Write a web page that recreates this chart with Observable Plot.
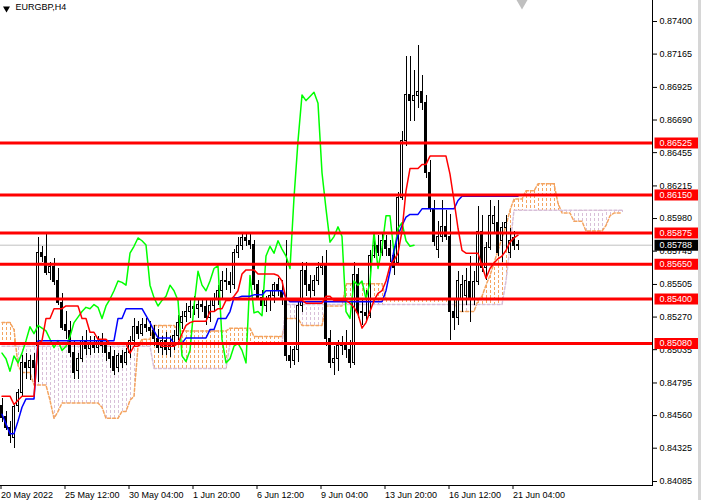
<!DOCTYPE html>
<html><head><meta charset="utf-8">
<script src="https://cdn.jsdelivr.net/npm/d3@7"></script>
<script src="https://cdn.jsdelivr.net/npm/@observablehq/plot@0.6"></script>
<style>
html,body{margin:0;padding:0;background:#fff;}
#wrap{position:relative;width:701px;height:500px;overflow:hidden;}
#edge{position:absolute;right:0;top:0;width:3px;height:500px;background:#d6d6d6;}
</style></head><body><div id="wrap"><div id="edge"></div></div>
<script>
// ---- data (EURGBP H4 candles, Ichimoku lines, levels) ----
const openP = [0.8463,0.8455,0.8447,0.8440,0.8463,0.8472,0.8494,0.8490,0.8495,0.8506,
0.8573,0.8570,0.8559,0.8563,0.8553,0.8537,0.8521,0.8517,0.8501,0.8488,
0.8497,0.8510,0.8504,0.8508,0.8505,0.8510,0.8506,0.8501,0.8498,0.8490,
0.8499,0.8494,0.8501,0.8510,0.8520,0.8515,0.8521,0.8519,0.8517,0.8511,
0.8505,0.8510,0.8503,0.8506,0.8513,0.8523,0.8527,0.8531,0.8534,0.8533,
0.8536,0.8534,0.8526,0.8535,0.8540,0.8546,0.8553,0.8552,0.8550,0.8573,
0.8578,0.8584,0.8582,0.8579,0.8550,0.8541,0.8535,0.8539,0.8542,0.8550,
0.8546,0.8539,0.8499,0.8495,0.8503,0.8535,0.8560,0.8550,0.8546,0.8553,
0.8562,0.8564,0.8511,0.8494,0.8497,0.8506,0.8508,0.8503,0.8494,0.8557,
0.8530,0.8530,0.8528,0.8571,0.8578,0.8573,0.8582,0.8576,0.8571,0.8566,
0.8613,0.8654,0.8687,0.8683,0.8686,0.8689,0.8681,0.8631,0.8605,0.8575,
0.8585,0.8592,0.8585,0.8531,0.8526,0.8539,0.8542,0.8552,0.8540,0.8552,
0.8588,0.8562,0.8577,0.8594,0.8595,0.8582,0.8591,0.8573,0.8584,0.8578];
const highP = [0.8468,0.8459,0.8452,0.8463,0.8475,0.8499,0.8501,0.8499,0.8501,0.8584,
0.8578,0.8587,0.8566,0.8569,0.8562,0.8544,0.8531,0.8524,0.8510,0.8501,
0.8513,0.8517,0.8513,0.8513,0.8513,0.8515,0.8511,0.8506,0.8503,0.8501,
0.8503,0.8504,0.8513,0.8526,0.8524,0.8526,0.8526,0.8524,0.8521,0.8518,
0.8513,0.8516,0.8513,0.8517,0.8528,0.8531,0.8537,0.8540,0.8542,0.8539,
0.8540,0.8539,0.8539,0.8544,0.8550,0.8560,0.8562,0.8559,0.8576,0.8584,
0.8588,0.8588,0.8588,0.8582,0.8553,0.8546,0.8542,0.8546,0.8552,0.8555,
0.8553,0.8582,0.8506,0.8506,0.8539,0.8566,0.8566,0.8557,0.8557,0.8566,
0.8571,0.8575,0.8517,0.8506,0.8510,0.8513,0.8517,0.8510,0.8566,0.8562,
0.8539,0.8546,0.8575,0.8584,0.8586,0.8588,0.8586,0.8582,0.8578,0.8617,
0.8661,0.8715,0.8715,0.8705,0.8723,0.8701,0.8687,0.8640,0.8611,0.8596,
0.8611,0.8604,0.8601,0.8539,0.8560,0.8557,0.8562,0.8571,0.8560,0.8607,
0.8600,0.8581,0.8611,0.8607,0.8611,0.8595,0.8600,0.8591,0.8589,0.8582];
const lowP = [0.8451,0.8445,0.8436,0.8432,0.8458,0.8470,0.8482,0.8481,0.8480,0.8480,
0.8566,0.8557,0.8553,0.8550,0.8535,0.8517,0.8511,0.8498,0.8482,0.8482,
0.8494,0.8499,0.8499,0.8501,0.8501,0.8501,0.8495,0.8490,0.8485,0.8487,
0.8490,0.8492,0.8497,0.8506,0.8511,0.8513,0.8516,0.8513,0.8506,0.8501,
0.8499,0.8499,0.8498,0.8503,0.8510,0.8518,0.8523,0.8526,0.8528,0.8526,
0.8530,0.8521,0.8523,0.8531,0.8535,0.8540,0.8546,0.8544,0.8547,0.8569,
0.8575,0.8578,0.8576,0.8546,0.8539,0.8530,0.8530,0.8531,0.8537,0.8542,
0.8535,0.8495,0.8490,0.8492,0.8494,0.8530,0.8542,0.8540,0.8542,0.8550,
0.8557,0.8506,0.8490,0.8485,0.8488,0.8499,0.8497,0.8490,0.8492,0.8526,
0.8521,0.8523,0.8526,0.8569,0.8571,0.8571,0.8571,0.8566,0.8557,0.8564,
0.8611,0.8650,0.8668,0.8668,0.8677,0.8676,0.8627,0.8602,0.8578,0.8569,
0.8581,0.8582,0.8510,0.8517,0.8521,0.8530,0.8535,0.8523,0.8535,0.8550,
0.8559,0.8553,0.8575,0.8588,0.8571,0.8566,0.8576,0.8569,0.8575,0.8575];
const closeP = [0.8454,0.8447,0.8441,0.8462,0.8472,0.8494,0.8490,0.8495,0.8490,0.8573,
0.8570,0.8559,0.8563,0.8552,0.8537,0.8519,0.8517,0.8501,0.8487,0.8497,
0.8510,0.8504,0.8508,0.8505,0.8510,0.8506,0.8501,0.8497,0.8488,0.8499,
0.8494,0.8501,0.8510,0.8520,0.8515,0.8521,0.8519,0.8517,0.8511,0.8505,
0.8510,0.8503,0.8506,0.8513,0.8523,0.8527,0.8531,0.8534,0.8533,0.8536,
0.8534,0.8526,0.8535,0.8540,0.8546,0.8553,0.8552,0.8550,0.8573,0.8578,
0.8584,0.8582,0.8579,0.8550,0.8541,0.8535,0.8539,0.8542,0.8550,0.8546,
0.8539,0.8499,0.8495,0.8503,0.8535,0.8560,0.8550,0.8546,0.8553,0.8562,
0.8564,0.8511,0.8494,0.8497,0.8506,0.8508,0.8503,0.8494,0.8557,0.8530,
0.8531,0.8528,0.8571,0.8578,0.8573,0.8582,0.8576,0.8571,0.8562,0.8613,
0.8654,0.8687,0.8683,0.8686,0.8689,0.8681,0.8631,0.8605,0.8581,0.8585,
0.8592,0.8585,0.8531,0.8526,0.8553,0.8550,0.8553,0.8540,0.8552,0.8588,
0.8562,0.8577,0.8600,0.8600,0.8573,0.8591,0.8595,0.8582,0.8578,0.85788];
const tenkan = [0.8470,0.8470,0.8470,0.8464,0.8467,0.8470,0.8470,0.8470,0.8470,0.8508,
0.8510,0.8526,0.8526,0.8533,0.8533,0.8533,0.8535,0.8535,0.8535,0.8535,
0.8526,0.8526,0.8516,0.8516,0.8511,0.8511,0.8511,0.8508,0.8508,0.8508,
0.8508,0.8508,0.8501,0.8506,0.8506,0.8508,0.8508,0.8508,0.8508,0.8508,
0.8506,0.8506,0.8506,0.8506,0.8508,0.8515,0.8521,0.8523,0.8524,0.8524,
0.8524,0.8524,0.8531,0.8531,0.8533,0.8533,0.8539,0.8539,0.8542,0.8546,
0.8558,0.8561,0.8561,0.8561,0.8558,0.8558,0.8558,0.8558,0.8558,0.8557,
0.8553,0.8540,0.8539,0.8539,0.8539,0.8539,0.8537,0.8537,0.8537,0.8537,
0.8537,0.8542,0.8542,0.8539,0.8539,0.8539,0.8539,0.8537,0.8534,0.8529,
0.8519,0.8523,0.8531,0.8539,0.8544,0.8546,0.8553,0.8564,0.8568,0.8573,
0.8589,0.8618,0.8634,0.8634,0.8634,0.8637,0.8637,0.8643,0.8643,0.8643,
0.8643,0.8643,0.8630,0.8611,0.8591,0.8575,0.8573,0.8573,0.8573,0.8573,
0.8564,0.8555,0.8562,0.8566,0.8569,0.8571,0.8575,0.8581,0.8584,0.8586];
const kijun = [0.8457,0.8450,0.8443,0.8443,0.8452,0.8462,0.8468,0.8468,0.8468,0.8510,
0.8510,0.8510,0.8510,0.8510,0.8510,0.8510,0.8510,0.8510,0.8510,0.8510,
0.8510,0.8510,0.8510,0.8510,0.8510,0.8510,0.8510,0.8510,0.8510,0.8526,
0.8526,0.8533,0.8533,0.8533,0.8533,0.8533,0.8528,0.8523,0.8517,0.8512,
0.8512,0.8512,0.8512,0.8508,0.8508,0.8508,0.8512,0.8512,0.8512,0.8512,
0.8512,0.8512,0.8518,0.8518,0.8526,0.8526,0.8526,0.8531,0.8541,0.8541,
0.8542,0.8542,0.8542,0.8543,0.8543,0.8543,0.8546,0.8546,0.8546,0.8546,
0.8546,0.8541,0.8538,0.8538,0.8538,0.8538,0.8538,0.8538,0.8538,0.8538,
0.8538,0.8538,0.8538,0.8538,0.8538,0.8538,0.8538,0.8538,0.8538,0.8538,
0.8538,0.8538,0.8538,0.8538,0.8538,0.8538,0.8546,0.8560,0.8575,0.8586,
0.8593,0.8599,0.8601,0.8601,0.8601,0.8605,0.8605,0.8605,0.8605,0.8605,
0.8605,0.8605,0.8605,0.8605,0.8611,0.8614,0.8614,0.8614,0.8614,0.8614,
0.8614,0.8614,0.8614,0.8614,0.8614,0.8614,0.8614,0.8614,0.8614,0.8614];
const spanA = [0.8523,0.8523,0.8523,0.8518,0.8492,0.8487,0.8487,0.8487,0.8478,0.8478,
0.8478,0.8478,0.8467,0.8454,0.8459,0.8465,0.8465,0.8465,0.8465,0.8465,
0.8465,0.8465,0.8465,0.8465,0.8465,0.8462,0.8454,0.8454,0.8454,0.8454,
0.8459,0.8459,0.8467,0.8470,0.8506,0.8511,0.8511,0.8511,0.8521,0.8521,
0.8521,0.8521,0.8521,0.8521,0.8517,0.8517,0.8517,0.8517,0.8517,0.8517,
0.8517,0.8517,0.8517,0.8517,0.8517,0.8517,0.8517,0.8519,0.8519,0.8519,
0.8519,0.8519,0.8519,0.8513,0.8513,0.8513,0.8513,0.8513,0.8513,0.8513,
0.8513,0.8526,0.8526,0.8526,0.8526,0.8521,0.8521,0.8521,0.8521,0.8521,
0.8521,0.8535,0.8535,0.8535,0.8535,0.8535,0.8551,0.8551,0.8551,0.8551,
0.8551,0.8551,0.8551,0.8551,0.8551,0.8551,0.8540,0.8540,0.8540,0.8540,
0.8540,0.8540,0.8540,0.8540,0.8540,0.8540,0.8540,0.8540,0.8540,0.8540,
0.8540,0.8540,0.8540,0.8540,0.8531,0.8531,0.8531,0.8531,0.8531,0.8539,
0.8542,0.8550,0.8557,0.8566,0.8575,0.8584,0.8593,0.8604,0.8612,0.8612,
0.8612,0.8618,0.8618,0.8618,0.8623,0.8623,0.8623,0.8623,0.8623,0.8609,
0.8602,0.8602,0.8602,0.8596,0.8596,0.8596,0.8589,0.8589,0.8589,0.8589,
0.8589,0.8593,0.8600,0.8602,0.8602,0.8602];
const spanB = [0.8506,0.8506,0.8506,0.8506,0.8506,0.8506,0.8506,0.8506,0.8506,0.8506,
0.8506,0.8506,0.8506,0.8506,0.8506,0.8506,0.8506,0.8506,0.8506,0.8506,
0.8506,0.8506,0.8506,0.8506,0.8506,0.8506,0.8506,0.8506,0.8506,0.8506,
0.8506,0.8506,0.8506,0.8506,0.8506,0.8506,0.8506,0.8506,0.8490,0.8490,
0.8490,0.8490,0.8490,0.8490,0.8490,0.8490,0.8490,0.8490,0.8490,0.8490,
0.8490,0.8490,0.8490,0.8490,0.8490,0.8490,0.8490,0.8508,0.8508,0.8508,
0.8508,0.8508,0.8508,0.8508,0.8508,0.8508,0.8508,0.8508,0.8508,0.8508,
0.8508,0.8536,0.8536,0.8536,0.8536,0.8536,0.8536,0.8536,0.8536,0.8536,
0.8536,0.8536,0.8536,0.8536,0.8536,0.8536,0.8536,0.8536,0.8536,0.8536,
0.8536,0.8536,0.8536,0.8536,0.8536,0.8536,0.8536,0.8536,0.8536,0.8536,
0.8536,0.8536,0.8536,0.8536,0.8536,0.8536,0.8536,0.8536,0.8536,0.8536,
0.8536,0.8536,0.8536,0.8536,0.8536,0.8536,0.8536,0.8536,0.8536,0.8536,
0.8536,0.8536,0.8536,0.8536,0.8536,0.8536,0.8553,0.8578,0.8604,0.8604,
0.8604,0.8604,0.8604,0.8604,0.8604,0.8604,0.8604,0.8604,0.8604,0.8604,
0.8604,0.8604,0.8604,0.8604,0.8604,0.8604,0.8604,0.8604,0.8604,0.8604,
0.8604,0.8604,0.8604,0.8604,0.8604,0.8604];
const levels = [0.86525, 0.86150, 0.85875, 0.85650, 0.85400, 0.85080];
const bidPrice = 0.85788;
const priceTicks = [0.87400,0.87165,0.86925,0.86690,0.86455,0.86215,0.85980,0.85745,0.85505,0.85270,0.85035,0.84795,0.84560,0.84325,0.84085];
const timeTickBars = [0,16,32,48,64,80,96,112,128];
const timeTickLabels = ["20 May 2022","25 May 12:00","30 May 04:00","1 Jun 20:00","6 Jun 12:00","9 Jun 04:00","13 Jun 20:00","16 Jun 12:00","21 Jun 04:00"];
const symbolName = "EURGBP,H4";
const chikouShift = 26;

// ---- build tables ----
const candles = openP.map((o, i) => ({i, o, h: highP[i], l: lowP[i], c: closeP[i]}));
const cloud = spanA.map((a, i) => ({i, a, b: spanB[i]}));
const tk = tenkan.map((v, i) => ({i, v}));
const kj = kijun.map((v, i) => ({i, v}));
const chikou = closeP.slice(chikouShift).map((v, j) => ({i: j, v}));

const boxSym = {draw(ctx) { ctx.moveTo(-22, -5.5); ctx.lineTo(22, -5.5); ctx.lineTo(22, 5.5); ctx.lineTo(-22, 5.5); ctx.closePath(); }};
const fmt = d => d.toFixed(5);
const sandy = "#F4A460", thistle = "#D8BFD8";

const chart = Plot.plot({
  width: 701, height: 500,
  marginLeft: 0, marginRight: 49, marginTop: 0, marginBottom: 15,
  style: {fontFamily: "'Liberation Sans', Arial, sans-serif", fontSize: "9px", background: "white", color: "black", overflow: "visible"},
  x: {type: "linear", domain: [-0.375, 162.625]},
  y: {type: "linear", domain: [0.84085, 0.87400], range: [481, 21]},
  marks: [
    Plot.ruleY([bidPrice], {stroke: "#c0c0c0"}),
    Plot.ruleX(cloud.filter(d => d.a >= d.b), {x: "i", y1: "a", y2: "b", stroke: sandy, strokeDasharray: "3,2", shapeRendering: "crispEdges"}),
    Plot.ruleX(cloud.filter(d => d.a < d.b), {x: "i", y1: "a", y2: "b", stroke: thistle, strokeDasharray: "3,2", shapeRendering: "crispEdges"}),
    Plot.line(cloud, {x: "i", y: "a", stroke: sandy, strokeDasharray: "3,2"}),
    Plot.line(cloud, {x: "i", y: "b", stroke: thistle, strokeDasharray: "3,2"}),
    Plot.ruleX(candles, {x: "i", y1: "l", y2: "h", stroke: "black", shapeRendering: "crispEdges"}),
    Plot.rect(candles.filter(d => d.c >= d.o), {x1: d => d.i - 0.25, x2: d => d.i + 0.25, y1: "o", y2: "c", fill: "white", stroke: "black", shapeRendering: "crispEdges"}),
    Plot.rect(candles.filter(d => d.c < d.o), {x1: d => d.i - 0.25, x2: d => d.i + 0.25, y1: "o", y2: "c", fill: "black", stroke: "black", shapeRendering: "crispEdges"}),
    Plot.line(chikou, {x: "i", y: "v", stroke: "#00ff00"}),
    Plot.line(kj, {x: "i", y: "v", stroke: "#0000ff"}),
    Plot.line(tk, {x: "i", y: "v", stroke: "#ff0000"}),
    Plot.ruleY(levels, {stroke: "#ff0000", strokeWidth: 3}),
    Plot.frame({anchor: "right"}),
    Plot.frame({anchor: "bottom"}),
    Plot.axisY({anchor: "right", ticks: priceTicks, tickFormat: fmt, tickSize: 4, tickPadding: 3, label: null}),
    Plot.axisX({anchor: "bottom", ticks: timeTickBars, tickFormat: b => timeTickLabels[timeTickBars.indexOf(b)], tickSize: 4, tickPadding: 2, textAnchor: "start", dx: -1, label: null}),
    Plot.dot(levels, {y: d => d, frameAnchor: "right", dx: 24, symbol: boxSym, fill: "#ff0000", stroke: "none"}),
    Plot.text(levels, {y: d => d, text: fmt, frameAnchor: "right", dx: 7, textAnchor: "start", fill: "white"}),
    Plot.dot([bidPrice], {y: d => d, frameAnchor: "right", dx: 24, symbol: boxSym, fill: "black", stroke: "none"}),
    Plot.text([bidPrice], {y: d => d, text: fmt, frameAnchor: "right", dx: 7, textAnchor: "start", fill: "white"}),
    Plot.dot([symbolName], {frameAnchor: "top-left", dx: 6, dy: 8, symbol: "triangle", rotate: 180, r: 2.6, fill: "black", stroke: "none"}),
    Plot.text([symbolName], {text: d => d, frameAnchor: "top-left", dx: 15, dy: 3, textAnchor: "start", lineAnchor: "top", fill: "black"}),
    Plot.dot([candles.length], {x: d => d, frameAnchor: "top", dy: 2, symbol: "triangle", rotate: 180, r: 4.5, fill: "#c0c0c0", stroke: "none"})
  ]
});
document.getElementById("wrap").prepend(chart);
</script></body></html>
